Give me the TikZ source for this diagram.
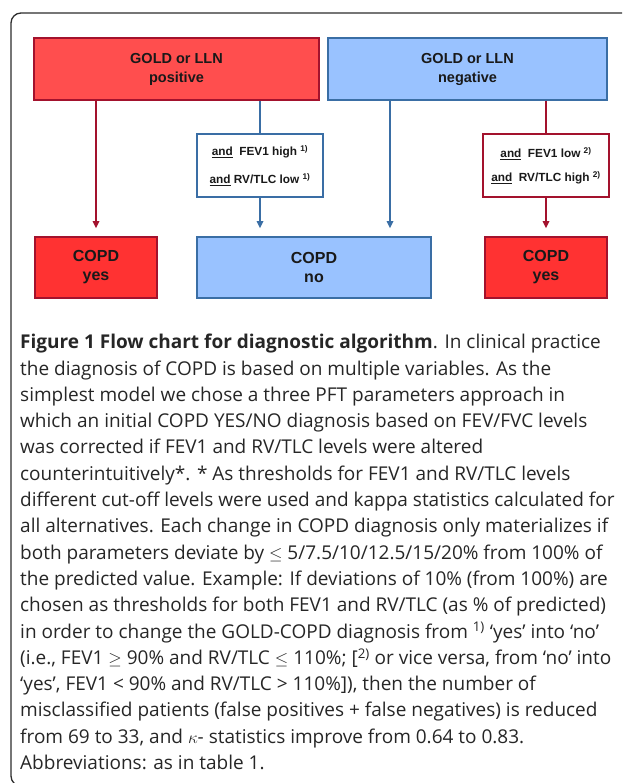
\documentclass[tikz,border=0pt]{standalone}
\usepackage{fontspec}
\usepackage{tikz}
\usetikzlibrary{arrows.meta,calc}
\setmainfont{Open Sans}
\newfontfamily\boxfont{Liberation Sans}

\definecolor{posred}{RGB}{255,78,78}
\definecolor{yesred}{RGB}{255,50,50}
\definecolor{darkred}{RGB}{163,18,45}
\definecolor{negblue}{RGB}{153,194,255}
\definecolor{darkblue}{RGB}{58,110,165}
\definecolor{framegray}{RGB}{45,45,45}
\definecolor{boxtext}{RGB}{25,25,25}

\tikzset{
  flowbox/.style={line width=1.6pt, inner sep=0pt, align=center, text=boxtext,
    font=\boxfont\bfseries\fontsize{14.5}{19}\selectfont},
  posbox/.style={flowbox, draw=darkred, fill=posred},
  negbox/.style={flowbox, draw=darkblue, fill=negblue},
  yesbox/.style={flowbox, draw=darkred, fill=yesred, minimum width=122pt, minimum height=61pt,
    font=\boxfont\bfseries\fontsize{16}{19}\selectfont},
  condbox/.style={flowbox, fill=white, minimum width=126pt, minimum height=63pt,
    font=\boxfont\bfseries\fontsize{11.8}{28}\selectfont},
  redarrow/.style={darkred, line width=1.6pt},
  bluearrow/.style={darkblue, line width=1.6pt},
}

\begin{document}
\begin{tikzpicture}[x=1pt,y=-1pt,>={Triangle[length=7pt,width=6.5pt]}]
    % Page size and outer frame
    \useasboundingbox (0,0) rectangle (622,783);
    \begin{scope}
        \clip (0,0) rectangle (622,783);
        \draw[framegray, line width=1.3pt, rounded corners=10pt] (11,13) rectangle (700,786);
    \end{scope}

    % Starting boxes
    \node[posbox, minimum width=285pt, minimum height=62pt] (gpos) at (176.5,69) {GOLD or LLN\\positive};
    \node[negbox, minimum width=279pt, minimum height=62pt] (gneg) at (467.5,69) {GOLD or LLN\\negative};

    % Conditions
    \node[condbox, draw=darkblue] (highlow) at (260,165.5)
        {\underline{and}\ \ FEV1 high \textsuperscript{1)}\\\underline{and} RV/TLC low \textsuperscript{1)}};
    \node[condbox, draw=darkred, font=\boxfont\bfseries\fontsize{11.8}{24}\selectfont] (lowhigh) at (546,165.5)
        {\underline{and}\ \ FEV1 low \textsuperscript{2)}\\\underline{and}\ \ RV/TLC high \textsuperscript{2)}};

    % Outcomes
    \node[yesbox] (yesleft) at (96,267.5) {COPD\\yes};
    \node[negbox, minimum width=234pt, minimum height=61pt,
          font=\boxfont\bfseries\fontsize{16}{19}\selectfont] (copdno) at (314,267.5) {COPD\\no};
    \node[yesbox] (yesright) at (546,267.5) {COPD\\yes};

    % Connectors
    \draw[redarrow, ->, shorten >=8pt] (gpos.south -| yesleft.north) -- (yesleft.north);
    \draw[bluearrow] (gpos.south -| highlow.north) -- (highlow.north);
    \draw[bluearrow, ->, shorten >=8pt] (highlow.south) -- (highlow.south |- copdno.north);
    \draw[bluearrow, ->, shorten >=8pt] (gneg.south -| 390,0) -- (copdno.north -| 390,0);
    \draw[redarrow] (gneg.south -| lowhigh.north) -- (lowhigh.north);
    \draw[redarrow, ->, shorten >=8pt] (lowhigh.south) -- (yesright.north);

    % Caption
    \node[anchor=north west, inner sep=0pt, align=left, text=black!85,
          font=\fontsize{19}{26.3}\selectfont] (caption) at (20,334)
        {\textbf{Figure 1 Flow chart for diagnostic algorithm}. In clinical practice\\
         the diagnosis of COPD is based on multiple variables. As the\\
         simplest model we chose a three PFT parameters approach in\\
         which an initial COPD YES/NO diagnosis based on FEV/FVC levels\\
         was corrected if FEV1 and RV/TLC levels were altered\\
         counterintuitively*. * As thresholds for FEV1 and RV/TLC levels\\
         different cut-off levels were used and kappa statistics calculated for\\
         all alternatives. Each change in COPD diagnosis only materializes if\\
         both parameters deviate by \(\leq\) 5/7.5/10/12.5/15/20\% from 100\% of\\
         the predicted value. Example: If deviations of 10\% (from 100\%) are\\
         chosen as thresholds for both FEV1 and RV/TLC (as \% of predicted)\\
         in order to change the GOLD-COPD diagnosis from \textsuperscript{1)} ‘yes’ into ‘no’\\
         (i.e., FEV1 \(\geq\) 90\% and RV/TLC \(\leq\) 110\%; [\textsuperscript{2)} or vice versa, from ‘no’ into\\
         ‘yes’, FEV1 < 90\% and RV/TLC > 110\%]), then the number of\\
         misclassified patients (false positives + false negatives) is reduced\\
         from 69 to 33, and \(\kappa\)- statistics improve from 0.64 to 0.83.\\
         Abbreviations: as in table 1.};
\end{tikzpicture}
\end{document}
